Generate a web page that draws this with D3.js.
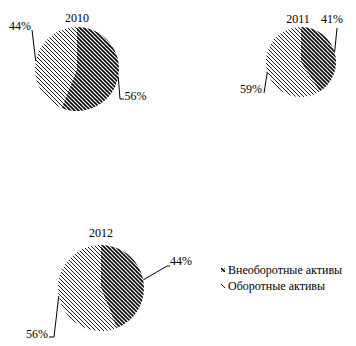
<!DOCTYPE html>
<html>
<head>
<meta charset="utf-8">
<script src="https://cdn.jsdelivr.net/npm/d3@7/dist/d3.min.js"></script>
<style>
  html, body { margin: 0; padding: 0; background: #fff; }
  svg { display: block; }
  text { font-family: "Liberation Serif", "Times New Roman", serif; fill: #000; }
</style>
</head>
<body>
<div id="chart"></div>
<script>
// Asset structure by year, percent of total assets
const years = ["2010", "2011", "2012"];
const categories = ["Внеоборотные активы", "Оборотные активы"];
const nonCurrentShare = [56, 41, 44];
const currentShare = [44, 59, 56];

const width = 356, height = 346;

// Placement of each pie: centre, radius, title baseline, label positions
const layout = [
  { cx: 77, cy: 69, r: 42, titleY: 22,
    labels: [
      { knee: [120, 99], end: [124, 99], text: [124.5, 100], anchor: "start" },
      { knee: null, end: [32, 30], text: [31, 30], anchor: "end" }
    ] },
  { cx: 301, cy: 62, r: 35, titleX: 298, titleY: 23,
    labels: [
      { knee: null, end: [337, 28], text: [321, 23], anchor: "start" },
      { knee: null, end: [264, 93], text: [262, 93], anchor: "end" }
    ] },
  { cx: 101, cy: 288, r: 43, titleY: 237,
    labels: [
      { knee: [167, 266], end: [170, 266], text: [170, 265], anchor: "start" },
      { knee: [54, 337], end: [49, 337], text: [48, 338], anchor: "end" }
    ] }
];

const svg = d3.select("#chart").append("svg")
  .attr("width", width).attr("height", height);

// Hatch fills: heavy diagonals for non-current assets, fine ones for current assets
const defs = svg.append("defs");
const hatch = [
  { id: "hatch-dark", stroke: 1.6 },
  { id: "hatch-light", stroke: 0.9 }
];
hatch.forEach(h => {
  const p = defs.append("pattern")
    .attr("id", h.id)
    .attr("patternUnits", "userSpaceOnUse")
    .attr("width", 4).attr("height", 4);
  p.append("rect").attr("width", 4).attr("height", 4).attr("fill", "#fff");
  p.append("path")
    .attr("d", "M-1,-1L5,5M-1,3L1,5M3,-1L5,1")
    .attr("stroke", "#000")
    .attr("stroke-width", h.stroke)
    .attr("fill", "none");
});
const fills = ["url(#hatch-dark)", "url(#hatch-light)"];

const pie = d3.pie().sort(null).value(d => d.value);

years.forEach((year, i) => {
  const L = layout[i];
  const data = [
    { cat: categories[0], value: nonCurrentShare[i] },
    { cat: categories[1], value: currentShare[i] }
  ];
  const arcs = pie(data);
  const arc = d3.arc().innerRadius(0).outerRadius(L.r);
  const edge = d3.arc().innerRadius(L.r).outerRadius(L.r);

  const g = svg.append("g").attr("transform", `translate(${L.cx},${L.cy})`);
  g.selectAll("path.slice").data(arcs).join("path")
    .attr("class", "slice")
    .attr("d", arc)
    .attr("fill", (d, j) => fills[j]);

  svg.append("text")
    .attr("x", L.titleX != null ? L.titleX : L.cx)
    .attr("y", L.titleY)
    .attr("text-anchor", "middle")
    .attr("font-size", 12)
    .text(year);

  arcs.forEach((a, j) => {
    const lab = L.labels[j];
    const c = edge.centroid(a);
    const pts = [[L.cx + c[0], L.cy + c[1]]];
    if (lab.knee) pts.push(lab.knee);
    pts.push(lab.end);
    svg.append("path")
      .attr("d", d3.line()(pts))
      .attr("fill", "none")
      .attr("stroke", "#000")
      .attr("stroke-width", 1);
    svg.append("text")
      .attr("x", lab.text[0]).attr("y", lab.text[1])
      .attr("text-anchor", lab.anchor)
      .attr("font-size", 12)
      .text(a.data.value + "%");
  });
});

// Legend
const legend = svg.append("g").attr("transform", "translate(221,268)");
categories.forEach((c, j) => {
  const row = legend.append("g").attr("transform", `translate(0,${j * 16})`);
  row.append("rect").attr("x", 0).attr("y", 0).attr("width", 4).attr("height", 4)
    .attr("fill", fills[j]);
  row.append("text").attr("x", 7).attr("y", 5.5)
    .attr("font-size", 12)
    .text(c);
});
</script>
</body>
</html>
